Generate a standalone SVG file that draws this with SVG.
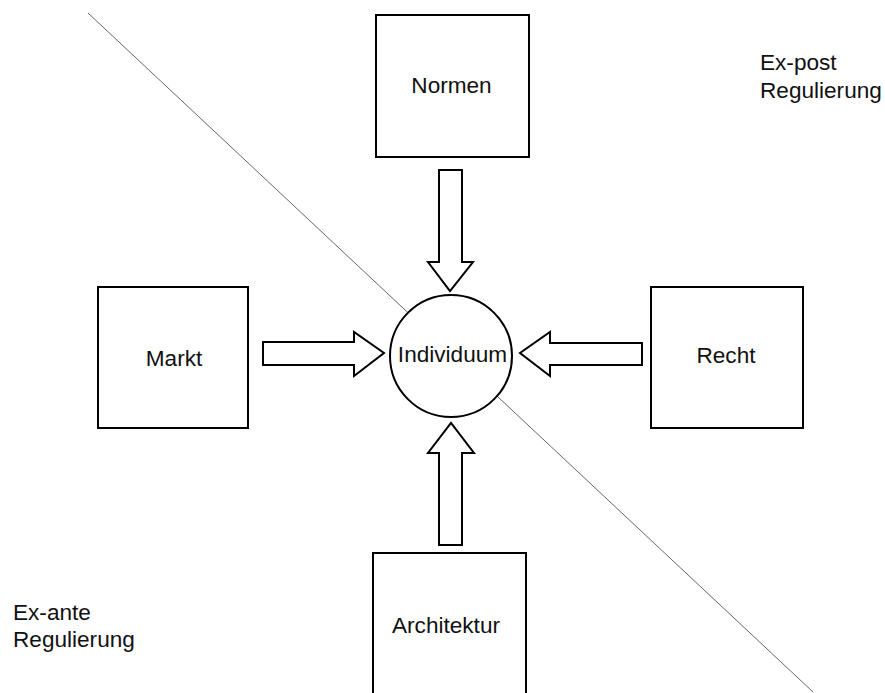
<svg xmlns="http://www.w3.org/2000/svg" width="885" height="693" viewBox="0 0 885 693">
<style>
.box{fill:#fff;stroke:#000;stroke-width:2}
.arrow{fill:#fff;stroke:#000;stroke-width:2;stroke-linejoin:miter}
.t{font-family:"Liberation Sans",Arial,sans-serif;font-size:22.6px;fill:#111}
.c{text-anchor:middle}
.div{stroke:#666;stroke-width:1;fill:none}
</style>
<rect width="885" height="693" fill="#fff"/>
<line class="div" x1="88" y1="13" x2="813" y2="692"/>
<g id="connectors">
<polygon class="arrow" points="439,170 462,170 462,262 473,262 450,291 428,262 439,262"/>
<polygon class="arrow" points="263,342 354,342 354,332 384,353 354,376 354,365 263,365"/>
<polygon class="arrow" points="642,343 550,343 550,332 520,353 550,376 550,365 642,365"/>
<polygon class="arrow" points="439,545 462,545 462,453 474,453 451,423 428,453 439,453"/>
</g>
<g id="normen"><rect class="box" x="376" y="15" width="153" height="142"/><text class="t c" x="451.5" y="93">Normen</text></g>
<g id="markt"><rect class="box" x="98" y="287" width="150" height="141"/><text class="t c" x="174" y="366">Markt</text></g>
<g id="recht"><rect class="box" x="651" y="287" width="152" height="141"/><text class="t c" x="726" y="363">Recht</text></g>
<g id="architektur"><rect class="box" x="373" y="553" width="153" height="160"/><text class="t c" x="446" y="633">Architektur</text></g>
<g id="individuum"><circle class="box" cx="451" cy="356" r="61"/><text class="t c" x="452.5" y="362">Individuum</text></g>
<g id="expost"><text class="t" x="760" y="70">Ex-post</text><text class="t" x="760" y="98">Regulierung</text></g>
<g id="exante"><text class="t" x="13" y="620">Ex-ante</text><text class="t" x="13" y="647">Regulierung</text></g>
</svg>
